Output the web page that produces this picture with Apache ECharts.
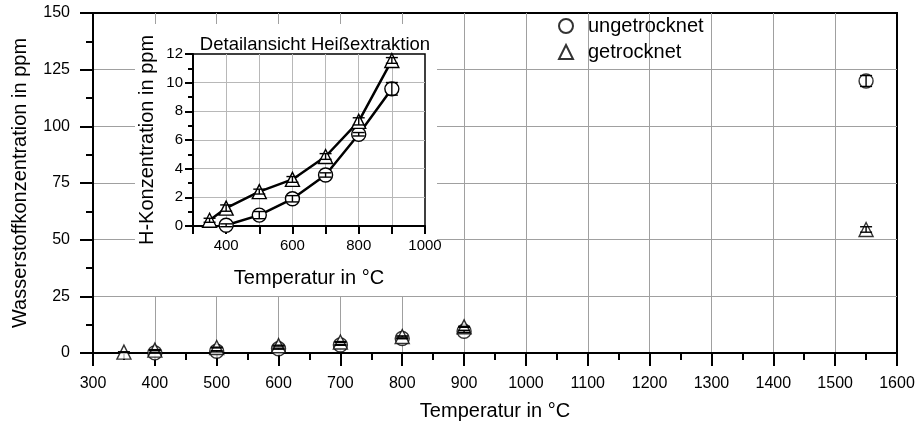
<!DOCTYPE html>
<html><head><meta charset="utf-8">
<script src="https://cdn.jsdelivr.net/npm/echarts@6/dist/echarts.min.js"></script>
<style>html,body{margin:0;padding:0;background:#fff}#c{width:921px;height:434px}</style>
</head><body><div id="c"></div>
<script>
// ---- data ----
const tempUngetrocknet = [400, 500, 600, 700, 800, 900, 1550];
const hUngetrocknet    = [0.05, 0.76, 1.9, 3.56, 6.4, 9.57, 120];
const errUngetrocknet  = [0.1, 0.25, 0.22, 0.15, 0.12, 0.44, 2.4];
const tempGetrocknet   = [350, 400, 500, 600, 700, 800, 900, 1550];
const hGetrocknet      = [0.4, 1.25, 2.4, 3.25, 4.85, 7.3, 11.55, 54.5];
const errGetrocknet    = [0.14, 0.22, 0.17, 0.2, 0.2, 0.25, 0.2, 1.2];
const seriesNames      = ['ungetrocknet', 'getrocknet'];
const detailMaxTemp    = 1000;

const FONT = "'Liberation Sans', Arial, sans-serif";
const pts = (xs, ys) => xs.map((x, i) => [x, ys[i]]);
const errPts = (xs, ys, es) => xs.map((x, i) => [x, ys[i], es[i]]);
const detail = arr => arr.filter(p => p[0] <= detailMaxTemp);
const plain = v => String(v);

function errRender(params, api) {
  const x = api.value(0), y = api.value(1), e = api.value(2);
  const t = api.coord([x, y + e]), b = api.coord([x, y - e]);
  const hw = 6, st = { stroke: '#000', lineWidth: 1.4 };
  return { type: 'group', children: [
    { type: 'line', shape: { x1: t[0], y1: t[1], x2: b[0], y2: b[1] }, style: st },
    { type: 'line', shape: { x1: t[0] - hw, y1: t[1], x2: t[0] + hw, y2: t[1] }, style: st },
    { type: 'line', shape: { x1: b[0] - hw, y1: b[1], x2: b[0] + hw, y2: b[1] }, style: st }
  ]};
}

const markerStyle = { color: '#fff', borderColor: '#000', borderWidth: 1.4 };
const blackLine = { color: '#000', width: 2 };

const chart = echarts.init(document.getElementById('c'), null, { renderer: 'canvas' });
chart.setOption({
  animation: false,
  backgroundColor: '#fff',
  textStyle: { fontFamily: FONT, color: '#000' },
  title: {
    text: 'Detailansicht Heißextraktion', left: 310, top: 30, textAlign: 'center',
    textStyle: { fontFamily: FONT, fontSize: 18.5, fontWeight: 'normal', color: '#000' }
  },
  legend: {
    data: seriesNames.map(n => ({ name: n })),
    orient: 'vertical', left: 553, top: 11, itemWidth: 14, itemHeight: 14, itemGap: 6,
    textStyle: { fontFamily: FONT, fontSize: 20, color: '#000', padding: [0, 0, 0, 10] }
  },
  graphic: [{ type: 'rect', z: 1, shape: { x: 135, y: 24, width: 302, height: 272 }, style: { fill: '#fff' } }],
  grid: [
    { left: 93, top: 13, right: 24, bottom: 81, show: true, borderColor: '#000', borderWidth: 2, backgroundColor: 'transparent' },
    { left: 193, top: 54, width: 232, height: 172, show: true, borderColor: '#000', borderWidth: 1.5, backgroundColor: 'transparent', z: 3 }
  ],
  xAxis: [
    { gridIndex: 0, type: 'value', min: 300, max: 1600, interval: 100,
      axisLine: { lineStyle: blackLine }, axisTick: { length: 13, lineStyle: blackLine },
      minorTick: { show: true, splitNumber: 2, length: 7, lineStyle: blackLine },
      axisLabel: { margin: 23, fontSize: 16, color: '#000', fontFamily: FONT, formatter: plain },
      splitLine: { show: true, showMinLine: false, showMaxLine: false, lineStyle: { color: '#a0a0a0', width: 1 } },
      name: 'Temperatur in °C', nameLocation: 'middle', nameGap: 48,
      nameTextStyle: { fontSize: 20, color: '#000', fontFamily: FONT } },
    { gridIndex: 1, type: 'value', min: 300, max: 1000, interval: 100, z: 3,
      axisLine: { lineStyle: blackLine }, axisTick: { length: 8, lineStyle: blackLine },
      axisLabel: { margin: 12, fontSize: 15, color: '#000', fontFamily: FONT, formatter: v => (v % 200 === 0 ? String(v) : '') },
      splitLine: { show: true, showMinLine: false, showMaxLine: false, lineStyle: { color: '#b8b8b8', width: 1 } },
      name: 'Temperatur in °C', nameLocation: 'middle', nameGap: 42,
      nameTextStyle: { fontSize: 20, color: '#000', fontFamily: FONT } }
  ],
  yAxis: [
    { gridIndex: 0, type: 'value', min: 0, max: 150, interval: 25,
      axisLine: { lineStyle: blackLine }, axisTick: { length: 13, lineStyle: blackLine },
      minorTick: { show: true, splitNumber: 2, length: 7, lineStyle: blackLine },
      axisLabel: { margin: 23, fontSize: 16, color: '#000', fontFamily: FONT, formatter: plain },
      splitLine: { show: true, showMinLine: false, showMaxLine: false, lineStyle: { color: '#a0a0a0', width: 1 } },
      name: 'Wasserstoffkonzentration in ppm', nameLocation: 'middle', nameGap: 63,
      nameTextStyle: { fontSize: 20, color: '#000', fontFamily: FONT } },
    { gridIndex: 1, type: 'value', min: 0, max: 12, interval: 2, z: 3,
      axisLine: { lineStyle: blackLine }, axisTick: { length: 8, lineStyle: blackLine },
      minorTick: { show: true, splitNumber: 2, length: 5, lineStyle: blackLine },
      axisLabel: { margin: 10, fontSize: 15, color: '#000', fontFamily: FONT, formatter: plain },
      splitLine: { show: true, showMinLine: false, showMaxLine: false, lineStyle: { color: '#b8b8b8', width: 1 } },
      name: 'H-Konzentration in ppm', nameLocation: 'middle', nameGap: 36,
      nameTextStyle: { fontSize: 20, color: '#000', fontFamily: FONT } }
  ],
  series: [
    { name: seriesNames[0], type: 'scatter', xAxisIndex: 0, yAxisIndex: 0, z: 2,
      symbol: 'circle', symbolSize: 14, itemStyle: markerStyle,
      data: pts(tempUngetrocknet, hUngetrocknet) },
    { name: seriesNames[1], type: 'scatter', xAxisIndex: 0, yAxisIndex: 0, z: 2,
      symbol: 'triangle', symbolSize: 14, itemStyle: markerStyle,
      data: pts(tempGetrocknet, hGetrocknet) },
    { name: 'errU', type: 'custom', xAxisIndex: 0, yAxisIndex: 0, z: 3, renderItem: errRender,
      encode: { x: 0, y: 1 }, data: errPts(tempUngetrocknet, hUngetrocknet, errUngetrocknet) },
    { name: 'errG', type: 'custom', xAxisIndex: 0, yAxisIndex: 0, z: 3, renderItem: errRender,
      encode: { x: 0, y: 1 }, data: errPts(tempGetrocknet, hGetrocknet, errGetrocknet) },
    { name: 'detailU', type: 'line', xAxisIndex: 1, yAxisIndex: 1, z: 4,
      symbol: 'circle', symbolSize: 14, itemStyle: markerStyle, lineStyle: { color: '#000', width: 2.5 },
      data: detail(pts(tempUngetrocknet, hUngetrocknet)) },
    { name: 'detailG', type: 'line', xAxisIndex: 1, yAxisIndex: 1, z: 4,
      symbol: 'triangle', symbolSize: 14, itemStyle: markerStyle, lineStyle: { color: '#000', width: 2.5 },
      data: detail(pts(tempGetrocknet, hGetrocknet)) },
    { name: 'detailErrU', type: 'custom', xAxisIndex: 1, yAxisIndex: 1, z: 5, renderItem: errRender,
      encode: { x: 0, y: 1 }, data: detail(errPts(tempUngetrocknet, hUngetrocknet, errUngetrocknet)) },
    { name: 'detailErrG', type: 'custom', xAxisIndex: 1, yAxisIndex: 1, z: 5, renderItem: errRender,
      encode: { x: 0, y: 1 }, data: detail(errPts(tempGetrocknet, hGetrocknet, errGetrocknet)) }
  ]
});
</script>
</body></html>
